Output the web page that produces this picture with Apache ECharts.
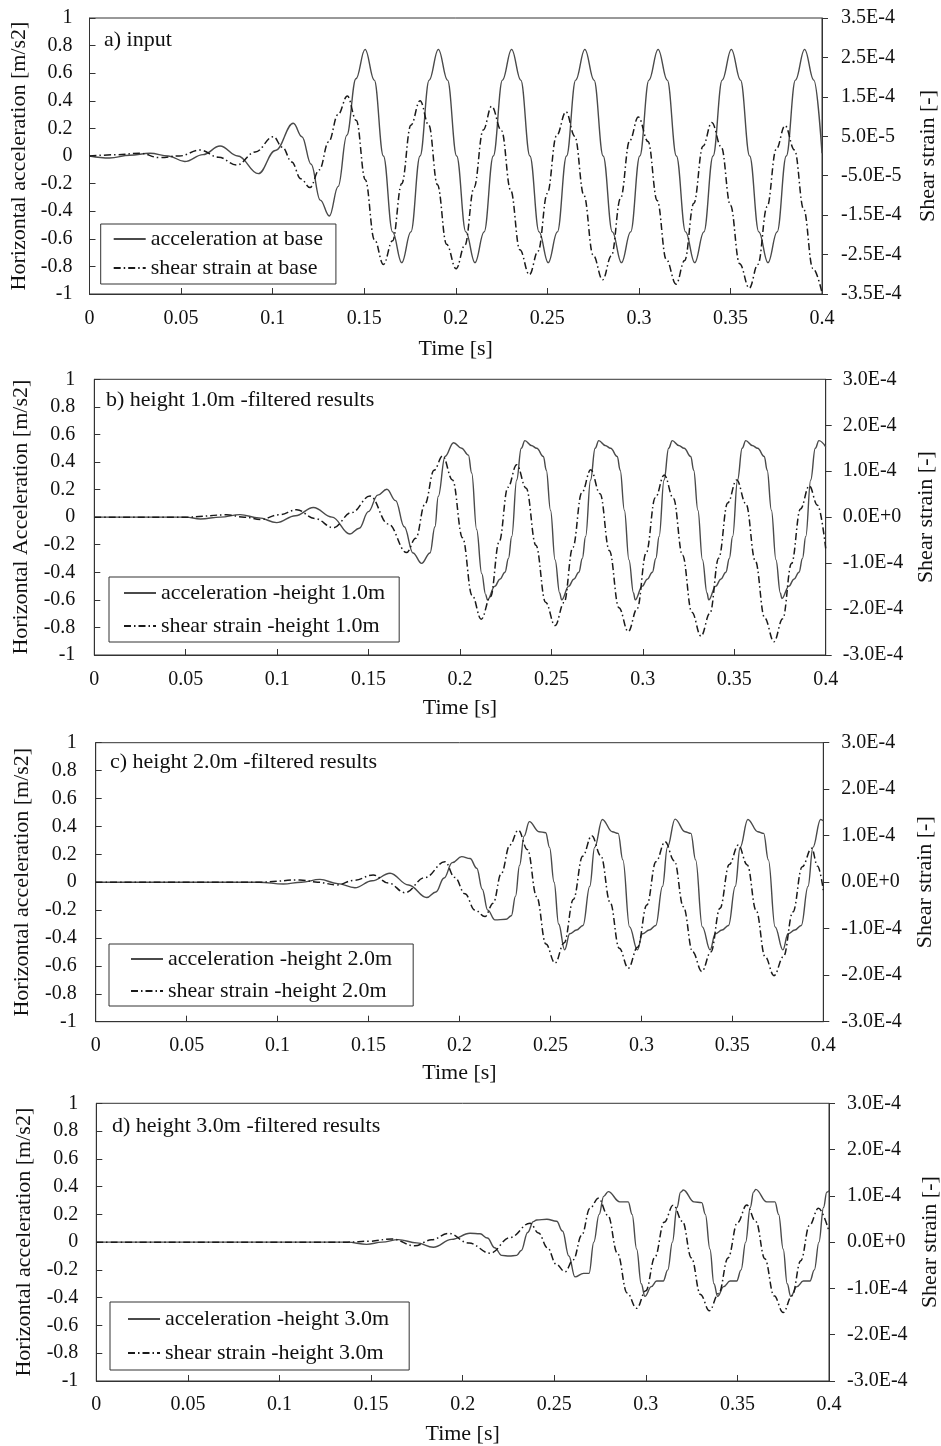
<!DOCTYPE html>
<html><head><meta charset="utf-8">
<script src="https://cdn.jsdelivr.net/npm/echarts@6/dist/echarts.min.js"></script>
<style>html,body{margin:0;padding:0;background:#fff}#c{width:941px;height:1446px}</style>
</head><body><div id="c"></div>
<script>
// ---------- DATA ----------
const timeMin = 0, timeMax = 0.4, timeStep = 0.05;
const accTicks = {min:-1, max:1, step:0.2};
const strainTicksA = {min:-3.5, max:3.5, step:1};   // units of 1e-4
const strainTicksBCD = {min:-3, max:3, step:1};     // units of 1e-4

const panelTitles = ['a) input','b) height 1.0m -filtered results','c) height 2.0m -filtered results','d) height 3.0m -filtered results'];
const accNames = ['acceleration at base','acceleration -height 1.0m','acceleration -height 2.0m','acceleration -height 3.0m'];
const strainNames = ['shear strain at base','shear strain -height 1.0m','shear strain -height 2.0m','shear strain -height 3.0m'];
const accAxisNames = ['Horizontal acceleration [m/s2]','Horizontal Acceleration [m/s2]','Horizontal acceleration [m/s2]','Horizontal acceleration [m/s2]'];
const strainAxisName = 'Shear strain [-]';
const timeAxisName = 'Time [s]';

// acceleration [m/s2], [time, value]
const accA = [[0,0],[0.011,-0.015],[0.022,0.005],[0.033,0.02],[0.043,0],[0.052,-0.04],[0.062,0.01],[0.0713,0.072],[0.081,0],[0.0922,-0.128],[0.1015,0.04],[0.1113,0.237],[0.116,0.14],[0.121,-0.06],[0.126,-0.32],[0.131,-0.435],[0.1358,-0.22],[0.1405,0.15],[0.1455,0.56],[0.1505,0.773],[0.1555,0.55],[0.1605,0],[0.1655,-0.55],[0.1705,-0.773],[0.1755,-0.55],[0.1805,0],[0.1855,0.55],[0.1905,0.773],[0.1955,0.55],[0.2005,0],[0.2055,-0.55],[0.2105,-0.773],[0.2155,-0.55],[0.2205,0],[0.2255,0.55],[0.2305,0.773],[0.2355,0.55],[0.2405,0],[0.2455,-0.55],[0.2505,-0.773],[0.2555,-0.55],[0.2605,0],[0.2655,0.55],[0.2705,0.773],[0.2755,0.55],[0.2805,0],[0.2855,-0.55],[0.2905,-0.773],[0.2955,-0.55],[0.3005,0],[0.3055,0.55],[0.3105,0.773],[0.3155,0.55],[0.3205,0],[0.3255,-0.55],[0.3305,-0.773],[0.3355,-0.55],[0.3405,0],[0.3455,0.55],[0.3505,0.773],[0.3555,0.55],[0.3605,0],[0.3655,-0.55],[0.3705,-0.773],[0.3755,-0.55],[0.3805,0],[0.3855,0.55],[0.3905,0.773],[0.3955,0.55],[0.4,0.02]];
// shear strain [1e-4], [time, value]
const strainA = [[0,0],[0.014,0.03],[0.0276,0.07],[0.038,-0.04],[0.049,0],[0.0603,0.15],[0.0705,-0.03],[0.0804,-0.23],[0.0905,0.1],[0.1004,0.49],[0.1054,0.22],[0.1104,-0.15],[0.1154,-0.58],[0.1204,-0.80],[0.1255,-0.35],[0.1306,0.36],[0.1357,1.05],[0.1408,1.52],[0.1457,0.90],[0.1506,-0.6],[0.1556,-2.12],[0.1605,-2.75],[0.1655,-2.15],[0.1705,-0.7],[0.1755,0.78],[0.1805,1.40],[0.1853,0.78],[0.19,-0.73],[0.195,-2.24],[0.2002,-2.86],[0.205,-2.26],[0.21,-0.8],[0.215,0.66],[0.2196,1.26],[0.225,0.64],[0.23,-0.87],[0.235,-2.38],[0.2402,-3.01],[0.245,-2.41],[0.25,-0.95],[0.255,0.51],[0.2602,1.12],[0.265,0.50],[0.27,-1.0],[0.275,-2.51],[0.2802,-3.14],[0.285,-2.53],[0.29,-1.07],[0.295,0.39],[0.2997,0.99],[0.305,0.37],[0.31,-1.13],[0.315,-2.63],[0.3203,-3.25],[0.325,-2.65],[0.33,-1.2],[0.335,0.25],[0.3398,0.85],[0.345,0.23],[0.35,-1.25],[0.355,-2.73],[0.3603,-3.35],[0.365,-2.75],[0.37,-1.29],[0.375,0.17],[0.3798,0.77],[0.385,0.15],[0.39,-1.35],[0.395,-2.85],[0.4,-3.47]];

const accB = [[0,0],[0.05,0],[0.058,-0.013],[0.069,0],[0.0797,0.018],[0.09,-0.005],[0.0997,-0.04],[0.11,0.01],[0.1198,0.07],[0.13,0.0],[0.1398,-0.122],[0.1449,-0.08],[0.1499,0.04],[0.155,0.16],[0.16,0.202],[0.1648,0.12],[0.1695,-0.07],[0.1743,-0.26],[0.179,-0.335],[0.1836,-0.26],[0.1863,-0.07],[0.1881,0.15],[0.1918,0.44],[0.1965,0.54],[0.2009,0.5],[0.2046,0.45],[0.2064,0.32],[0.2091,-0.09],[0.2119,-0.41],[0.214,-0.56],[0.215,-0.60],
 [0.2191,-0.5],[0.2218,-0.45],[0.2246,-0.40],[0.2265,-0.3],[0.2283,-0.14],[0.231,0.27],[0.2335,0.5],[0.2355,0.555],[0.239,0.52],[0.242,0.5],[0.2456,0.44],[0.2472,0.34],[0.2495,0.05],[0.252,-0.31],[0.2545,-0.55],[0.2556,-0.60],
 [0.2595,-0.5],[0.2622,-0.45],[0.265,-0.40],[0.2669,-0.3],[0.2687,-0.14],[0.2714,0.27],[0.2739,0.5],[0.2759,0.555],[0.2794,0.52],[0.2824,0.5],[0.286,0.44],[0.2876,0.34],[0.2899,0.05],[0.2924,-0.31],[0.2949,-0.55],[0.2958,-0.60],
 [0.2997,-0.5],[0.3024,-0.45],[0.3052,-0.40],[0.3071,-0.3],[0.3089,-0.14],[0.3116,0.27],[0.3141,0.5],[0.3161,0.555],[0.3196,0.52],[0.3226,0.5],[0.3262,0.44],[0.3278,0.34],[0.3301,0.05],[0.3326,-0.31],[0.3351,-0.55],[0.336,-0.60],
 [0.3399,-0.5],[0.3426,-0.45],[0.3454,-0.40],[0.3473,-0.3],[0.3491,-0.14],[0.3518,0.27],[0.3543,0.5],[0.3563,0.555],[0.3598,0.52],[0.3628,0.5],[0.3664,0.44],[0.368,0.34],[0.3703,0.05],[0.3728,-0.31],[0.3752,-0.55],[0.376,-0.59],
 [0.3799,-0.5],[0.3826,-0.45],[0.3854,-0.40],[0.3873,-0.3],[0.3891,-0.14],[0.3918,0.27],[0.3943,0.5],[0.3963,0.555],[0.4,0.51]];
const strainB = [[0,0],[0.05,0],[0.0724,0.05],[0.082,0],[0.091,-0.05],[0.101,0.05],[0.1107,0.16],[0.1207,-0.03],[0.1307,-0.23],[0.1407,0.1],[0.1508,0.46],[0.1608,-0.15],[0.1708,-0.77],[0.1758,-0.46],[0.1808,0.28],[0.1858,1.02],[0.1905,1.33],[0.1959,0.81],[0.2014,-0.45],[0.2066,-1.70],[0.2116,-2.22],[0.2167,-1.73],[0.2214,-0.54],[0.2262,0.65],[0.231,1.14],[0.2362,0.63],[0.2415,-0.61],[0.2468,-1.85],[0.252,-2.36],[0.2569,-1.86],[0.2617,-0.66],[0.2666,0.53],[0.2715,1.03],[0.2766,0.51],[0.2817,-0.73],[0.2869,-1.97],[0.292,-2.49],[0.2969,-1.99],[0.3018,-0.78],[0.3068,0.42],[0.3117,0.92],[0.3167,0.41],[0.3217,-0.83],[0.3268,-2.07],[0.3318,-2.59],[0.3367,-2.09],[0.3415,-0.89],[0.3464,0.31],[0.3513,0.81],[0.3564,0.29],[0.3615,-0.95],[0.3666,-2.19],[0.3717,-2.71],[0.3765,-2.21],[0.3813,-1.01],[0.3862,0.18],[0.391,0.68],[0.3955,0.26],[0.4,-0.68]];

const accC = [[0,0],[0.09,0],[0.1031,-0.013],[0.113,0.0],[0.1233,0.02],[0.133,-0.01],[0.1425,-0.04],[0.152,0.01],[0.1618,0.064],[0.172,-0.02],[0.182,-0.11],[0.187,-0.07],[0.1915,0.03],[0.196,0.14],[0.2012,0.183],[0.2058,0.17],[0.2095,0.1],[0.2125,-0.05],[0.2155,-0.2],[0.2195,-0.27],[0.2256,-0.266],[0.2285,-0.24],[0.2308,-0.1],[0.233,0.12],[0.2355,0.33],[0.2384,0.434],[0.2437,0.362],[0.2474,0.355],[0.2495,0.25],[0.252,0.0],[0.2545,-0.3],[0.2578,-0.485],
 [0.2606,-0.37],[0.2643,-0.343],[0.2679,-0.31],[0.2716,-0.03],[0.2743,0.25],[0.2785,0.45],[0.284,0.362],[0.2872,0.35],[0.2898,0.16],[0.2935,-0.32],[0.2978,-0.485],
 [0.3006,-0.37],[0.3043,-0.343],[0.3079,-0.31],[0.3116,-0.03],[0.3143,0.25],[0.3185,0.452],[0.324,0.362],[0.3272,0.35],[0.3298,0.16],[0.3335,-0.32],[0.3378,-0.485],
 [0.3406,-0.37],[0.3443,-0.343],[0.3479,-0.31],[0.3516,-0.03],[0.3543,0.25],[0.3585,0.45],[0.364,0.362],[0.3672,0.35],[0.3698,0.16],[0.3735,-0.32],[0.3778,-0.485],
 [0.3806,-0.37],[0.3843,-0.343],[0.3879,-0.31],[0.3916,-0.03],[0.3943,0.25],[0.3985,0.45],[0.4,0.44]];
const strainC = [[0,0],[0.09,0],[0.1123,0.05],[0.122,0],[0.1325,-0.06],[0.142,0.04],[0.1526,0.155],[0.161,-0.02],[0.17,-0.225],[0.181,0.1],[0.192,0.44],[0.1975,0.1],[0.203,-0.25],[0.2085,-0.6],[0.214,-0.74],[0.2185,-0.45],[0.223,0.19],[0.2277,0.8],[0.2323,1.12],[0.2374,0.7],[0.2424,-0.31],[0.2475,-1.33],[0.2525,-1.74],[0.2576,-1.3],[0.2626,-0.37],[0.2677,0.56],[0.2727,1.0],[0.2777,0.57],[0.2828,-0.43],[0.2878,-1.42],[0.2928,-1.85],[0.2979,-1.4],[0.303,-0.49],[0.308,0.44],[0.313,0.87],[0.3181,0.46],[0.3231,-0.53],[0.3282,-1.5],[0.3332,-1.92],[0.3382,-1.5],[0.3432,-0.56],[0.3483,0.38],[0.3533,0.80],[0.3582,0.37],[0.3631,-0.61],[0.368,-1.6],[0.3729,-2.01],[0.3781,-1.6],[0.3833,-0.64],[0.3884,0.33],[0.3936,0.73],[0.3968,0.35],[0.4,-0.17]];

const accD = [[0,0],[0.137,0],[0.1476,-0.016],[0.156,0.0],[0.1649,0.018],[0.175,-0.005],[0.184,-0.037],[0.194,0.02],[0.204,0.064],[0.2095,0.06],[0.2135,0.03],[0.2175,-0.04],[0.2213,-0.095],[0.2255,-0.1],[0.2295,-0.095],[0.232,-0.06],[0.2355,0.07],[0.2386,0.148],[0.2404,0.16],[0.246,0.165],[0.2513,0.15],[0.2545,0.08],[0.258,-0.1],[0.2613,-0.25],[0.266,-0.225],[0.269,-0.225],[0.2716,0.0],[0.2745,0.2],[0.277,0.33],[0.2795,0.364],[0.2858,0.29],[0.2904,0.29],[0.2925,0.2],[0.295,-0.05],[0.2975,-0.3],[0.2995,-0.39],[0.303,-0.32],[0.3059,-0.28],[0.3095,-0.28],[0.312,-0.2],[0.3145,0.0],[0.317,0.25],[0.319,0.36],[0.3205,0.376],[0.3263,0.29],[0.3305,0.285],[0.3325,0.2],[0.335,-0.05],[0.3372,-0.3],[0.3392,-0.39],[0.3425,-0.32],[0.346,-0.28],[0.3496,-0.28],[0.352,-0.2],[0.3545,0.0],[0.357,0.25],[0.3588,0.36],[0.36,0.38],[0.366,0.29],[0.3705,0.29],[0.3725,0.2],[0.375,-0.05],[0.3772,-0.3],[0.3791,-0.39],[0.3825,-0.32],[0.386,-0.28],[0.3896,-0.28],[0.392,-0.2],[0.3945,0.0],[0.397,0.25],[0.3988,0.36],[0.4,0.37]];
const strainD = [[0,0],[0.137,0],[0.149,0.02],[0.1613,0.07],[0.1739,-0.08],[0.183,0.05],[0.1922,0.19],[0.2035,-0.02],[0.215,-0.24],[0.2259,0.1],[0.2368,0.41],[0.2414,0.2],[0.2463,-0.12],[0.2511,-0.48],[0.2559,-0.64],[0.2604,-0.38],[0.265,0.15],[0.2695,0.73],[0.2741,0.95],[0.2793,0.58],[0.2845,-0.24],[0.2898,-1.1],[0.295,-1.43],[0.3,-1.05],[0.305,-0.32],[0.31,0.43],[0.315,0.80],[0.32,0.45],[0.3249,-0.34],[0.3298,-1.13],[0.3347,-1.48],[0.3398,-1.11],[0.3449,-0.34],[0.35,0.42],[0.3551,0.80],[0.3601,0.44],[0.365,-0.36],[0.37,-1.16],[0.375,-1.52],[0.3798,-1.16],[0.3846,-0.4],[0.3894,0.37],[0.3942,0.73],[0.4,0.23]];

// ---------- LAYOUT ----------
const FONT = "'Liberation Serif','Times New Roman',serif";
const TXT = '#111', AX = '#333';
const layout = [
 {grid:{left:89.5, top:18, width:732.5, height:276}, title:{left:104, top:29}, legend:{left:100.7, top:224, padding:[4,13,5,12], itemGap:7},
  lGap:57, rGap:95, xGap:44, xMargin:15, lMargin:17, rMargin:19},
 {grid:{left:94.3, top:379.3, width:731.4, height:275.7}, title:{left:106, top:389}, legend:{left:109, top:577, padding:[5,14,5,14], itemGap:11},
  lGap:62, rGap:90, xGap:42, xMargin:15, lMargin:19, rMargin:17},
 {grid:{left:95.7, top:742.7, width:727.6, height:279}, title:{left:110, top:751}, legend:{left:109, top:944, padding:[4,21,4,21], itemGap:10},
  lGap:62, rGap:91, xGap:41, xMargin:14, lMargin:19, rMargin:18},
 {grid:{left:96.3, top:1103.3, width:732.7, height:277.7}, title:{left:112, top:1115}, legend:{left:110, top:1302, padding:[6,20,6,17], itemGap:12},
  lGap:61, rGap:90, xGap:42, xMargin:14, lMargin:18, rMargin:18}
];
const accSeries = [accA, accB, accC, accD];
const strainSeries = [strainA, strainB, strainC, strainD];
const strainTicks = [strainTicksA, strainTicksBCD, strainTicksBCD, strainTicksBCD];

const option = {animation:false, backgroundColor:'#fff', title:[], legend:[], grid:[], xAxis:[], yAxis:[], series:[]};
const lbl = {fontFamily:FONT, fontSize:20, color:TXT};
const nameStyle = {fontFamily:FONT, fontSize:22, color:TXT};
layout.forEach((L,i)=>{
  option.grid.push(Object.assign({show:true, borderColor:AX, borderWidth:1, containLabel:false, outerBoundsMode:'none'}, L.grid));
  option.title.push({text:panelTitles[i], left:L.title.left, top:L.title.top, padding:0,
    textStyle:{fontFamily:FONT, fontSize:22, fontWeight:'normal', color:TXT}});
  option.legend.push({data:[accNames[i], strainNames[i]], orient:'vertical', left:L.legend.left, top:L.legend.top,
    padding:L.legend.padding, itemGap:L.legend.itemGap, itemWidth:32, itemHeight:10, borderColor:AX, borderWidth:1,
    itemStyle:{opacity:0, borderWidth:0}, selectedMode:false, textStyle:{fontFamily:FONT, fontSize:22, color:TXT}});
  option.xAxis.push({gridIndex:i, type:'value', min:timeMin, max:timeMax, interval:timeStep,
    name:timeAxisName, nameLocation:'middle', nameGap:L.xGap, nameTextStyle:nameStyle,
    axisLine:{onZero:false, lineStyle:{color:AX}}, axisTick:{inside:true, length:6, lineStyle:{color:AX}},
    axisLabel:Object.assign({margin:L.xMargin}, lbl), splitLine:{show:false}});
  option.yAxis.push({gridIndex:i, type:'value', position:'left', min:accTicks.min, max:accTicks.max, interval:accTicks.step,
    name:accAxisNames[i], nameLocation:'middle', nameGap:L.lGap, nameRotate:90, nameTextStyle:nameStyle,
    axisLine:{show:true, onZero:false, lineStyle:{color:AX}}, axisTick:{show:true, inside:true, length:6, lineStyle:{color:AX}},
    axisLabel:Object.assign({margin:L.lMargin}, lbl), splitLine:{show:false}});
  const st = strainTicks[i];
  option.yAxis.push({gridIndex:i, type:'value', position:'right', min:st.min, max:st.max, interval:st.step,
    name:strainAxisName, nameLocation:'middle', nameGap:L.rGap, nameRotate:90, nameTextStyle:nameStyle,
    axisLine:{show:true, onZero:false, lineStyle:{color:AX}}, axisTick:{show:true, inside:false, length:6, lineStyle:{color:AX}},
    axisLabel:Object.assign({margin:L.rMargin, formatter:v=>(v*1e-4).toExponential(1).toUpperCase()}, lbl), splitLine:{show:false}});
  option.series.push({name:accNames[i], type:'line', xAxisIndex:i, yAxisIndex:2*i, data:accSeries[i],
    symbol:'none', smooth:0.4, smoothMonotone:'x', lineStyle:{color:'#4a4a4a', width:1.4, type:'solid'}, itemStyle:{color:'#4a4a4a'}});
  option.series.push({name:strainNames[i], type:'line', xAxisIndex:i, yAxisIndex:2*i+1, data:strainSeries[i],
    symbol:'none', smooth:0.4, smoothMonotone:'x', lineStyle:{color:'#1a1a1a', width:1.5, type:[7,3,1.5,3]}, itemStyle:{color:'#1a1a1a'}});
});
const chart = echarts.init(document.getElementById('c'), null, {renderer:'canvas'});
chart.setOption(option);
</script></body></html>
